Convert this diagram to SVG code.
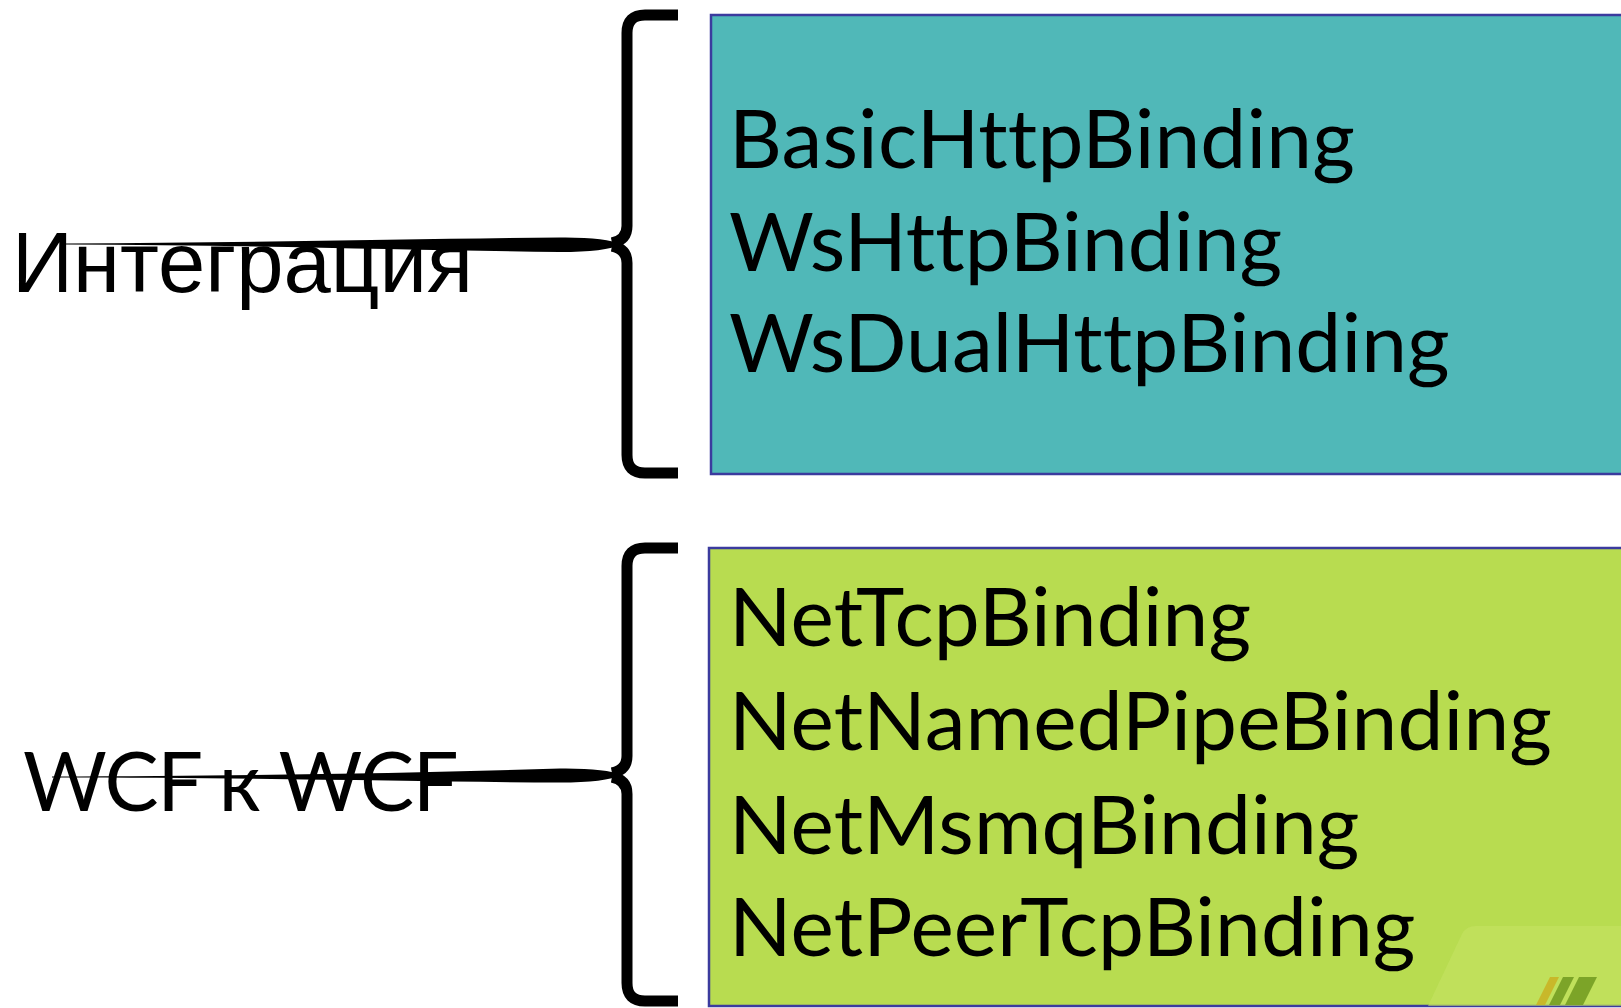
<svg xmlns="http://www.w3.org/2000/svg" width="1621" height="1008" viewBox="0 0 1621 1008">
  <style>
    .box { stroke: #3b3b9e; stroke-width: 2.5; }
    .brace { fill: none; stroke: #000; stroke-width: 11; stroke-linejoin: round; }
    .tail { fill: #000; }
    .bind { font-family: Lato, "Open Sans", sans-serif; font-size: 82px; letter-spacing: 0.15px; fill: #000; }
    .label-ru { font-family: "Liberation Sans", Arial, sans-serif; font-size: 85px; fill: #000; }
    .label-wcf { font-family: Lato, "Open Sans", sans-serif; font-size: 81px; letter-spacing: -1.5px; fill: #000; }
  </style>
  <rect width="1621" height="1008" fill="#fff"/>

  <!-- integration bindings -->
  <g id="integration-bindings">
    <rect class="box" x="711" y="15" width="920" height="459" fill="#50b8b8"/>
    <text class="bind" x="729" y="168">BasicHttpBinding</text>
    <text class="bind" x="729" y="271">WsHttpBinding</text>
    <text class="bind" x="729" y="372">WsDualHttpBinding</text>
  </g>

  <!-- WCF-to-WCF bindings -->
  <g id="wcf-bindings">
    <rect class="box" x="709" y="548" width="922" height="458" fill="#b8dc50"/>
    <path d="M1428,1006 L1462,934 Q1466,926 1476,926 L1621,926 L1621,1006 Z" fill="#c4e262" opacity="0.6"/>
    <path d="M1536,1005 L1550,977 L1559,977 L1545,1005 Z" fill="#c8b82a"/>
    <path d="M1549,1005 L1563,977 L1574,977 L1560,1005 Z" fill="#7ca428"/>
    <path d="M1565,1005 L1579,977 L1597,977 L1583,1005 Z" fill="#7ca428"/>
    <text class="bind" x="729" y="646">NetTcpBinding</text>
    <text class="bind" x="729" y="750">NetNamedPipeBinding</text>
    <text class="bind" x="729" y="854">NetMsmqBinding</text>
    <text class="bind" x="729" y="956">NetPeerTcpBinding</text>
  </g>

  <g id="label-integration">
    <text class="label-ru" x="12" y="292">Интеграция</text>
  </g>

  <g id="label-wcf">
    <text class="label-wcf" x="23" y="811">WCF к WCF</text>
  </g>

  <!-- braces with their tapered pointers -->
  <g id="connectors">
    <path class="brace" d="M678,15 L645,15 Q627,15 627,33 L627,226 Q627,240 612,243 M612,246 Q627,249 627,263 L627,455 Q627,473 645,473 L678,473"/>
    <path class="tail" d="M66,243.5 C250,242.5 420,239 560,237.5 Q605,237 622,244.5 Q605,252 560,252 C420,250.5 250,245 66,244.5 Z"/>

    <path class="brace" d="M678,548 L645,548 Q627,548 627,566 L627,756 Q627,770 612,773 M612,777 Q627,780 627,794 L627,983 Q627,1001 645,1001 L678,1001"/>
    <path class="tail" d="M52,776.5 C250,776 420,773 560,768.5 Q605,768 622,775 Q605,782.5 560,782.5 C420,782 250,777.5 52,777.5 Z"/>
  </g>
</svg>
